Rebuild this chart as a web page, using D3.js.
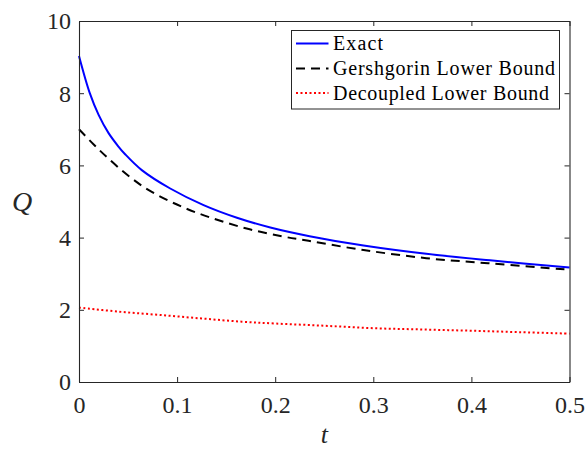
<!DOCTYPE html>
<html>
<head>
<meta charset="utf-8">
<script src="https://cdn.jsdelivr.net/npm/d3@7"></script>
<style>
  html, body { margin: 0; padding: 0; background: #fff; }
  svg { display: block; }
</style>
</head>
<body>
<svg id="chart" width="587" height="449"></svg>
<script>
// Sampled curves Q(t)
const exactT = [0, 0.011, 0.02, 0.03, 0.04, 0.047, 0.064, 0.093, 0.127, 0.161, 0.195, 0.235, 0.29, 0.354, 0.419, 0.5];
const exactQ = [9.03, 8.0, 7.40, 6.9, 6.53, 6.31, 5.87, 5.36, 4.90, 4.55, 4.28, 4.04, 3.78, 3.55, 3.37, 3.17];

const gershT = [0, 0.015, 0.03, 0.05, 0.072, 0.106, 0.14, 0.174, 0.208, 0.234, 0.29, 0.354, 0.417, 0.5];
const gershQ = [7.0, 6.58, 6.19, 5.72, 5.30, 4.84, 4.50, 4.23, 4.03, 3.91, 3.655, 3.43, 3.29, 3.11];

const decT = [0, 0.04, 0.081, 0.125, 0.166, 0.2, 0.249, 0.3, 0.35, 0.4, 0.45, 0.5];
const decQ = [2.06, 1.95, 1.86, 1.76, 1.67, 1.62, 1.56, 1.49, 1.455, 1.42, 1.38, 1.34];

const xTicks = [0, 0.1, 0.2, 0.3, 0.4, 0.5];
const yTicks = [0, 2, 4, 6, 8, 10];

const seriesNames = ["Exact", "Gershgorin Lower Bound", "Decoupled Lower Bound"];

const svg = d3.select("#chart");
const axisColor = "#262626";
const serif = "'Liberation Serif', 'DejaVu Serif', 'Noto Serif', Tinos, 'Times New Roman', Times, FreeSerif, serif";

const x = d3.scaleLinear().domain([0, 0.5]).range([79, 569.5]);
const y = d3.scaleLinear().domain([0, 10]).range([382, 21]);

const series = [
  { name: seriesNames[0], t: exactT, q: exactQ, color: "#0000ff", dash: null, width: 2 },
  { name: seriesNames[1], t: gershT, q: gershQ, color: "#000000", dash: "9,6", width: 2 },
  { name: seriesNames[2], t: decT, q: decQ, color: "#ff0000", dash: "2,2.5", width: 2 }
];

const line = d3.line()
  .x(d => x(d[0]))
  .y(d => y(d[1]))
  .curve(d3.curveCatmullRom.alpha(0.5));

// Curves
const plot = svg.append("g");
series.forEach(s => {
  plot.append("path")
    .datum(s.t.map((t, i) => [t, s.q[i]]))
    .attr("fill", "none")
    .attr("stroke", s.color)
    .attr("stroke-width", s.width)
    .attr("stroke-dasharray", s.dash)
    .attr("d", line);
});

// Axes with inward ticks, box on all four sides
const tickLen = 5;
const styleAxis = g => {
  g.attr("font-family", serif);
  g.select(".domain").attr("stroke", axisColor).attr("stroke-width", 1.1);
  g.selectAll(".tick line").attr("stroke", axisColor).attr("stroke-width", 1);
};

svg.append("g")
  .attr("transform", `translate(0,${y(0)})`)
  .call(d3.axisBottom(x).tickValues(xTicks).tickSizeInner(-tickLen).tickSizeOuter(0)
    .tickFormat(d => d === 0 ? "0" : d3.format(".1f")(d)))
  .call(styleAxis)
  .call(g => g.selectAll(".tick text")
    .attr("y", 31).attr("dy", null)
    .attr("font-size", 24).attr("fill", axisColor));

svg.append("g")
  .attr("transform", `translate(0,${y(10)})`)
  .call(d3.axisTop(x).tickValues(xTicks).tickSizeInner(-tickLen).tickSizeOuter(0).tickFormat(""))
  .call(styleAxis);

svg.append("g")
  .attr("transform", `translate(${x(0)},0)`)
  .call(d3.axisLeft(y).tickValues(yTicks).tickSizeInner(-tickLen).tickSizeOuter(0))
  .call(styleAxis)
  .call(g => g.selectAll(".tick text")
    .attr("x", -8).attr("dy", "0.33em")
    .attr("font-size", 24).attr("fill", axisColor));

svg.append("g")
  .attr("transform", `translate(${x(0.5)},0)`)
  .call(d3.axisRight(y).tickValues(yTicks).tickSizeInner(-tickLen).tickSizeOuter(0).tickFormat(""))
  .call(styleAxis);

// Axis labels
svg.append("text")
  .attr("x", (x(0) + x(0.5)) / 2)
  .attr("y", 443)
  .attr("text-anchor", "middle")
  .attr("font-family", serif)
  .attr("font-size", 26)
  .attr("font-style", "italic")
  .attr("fill", axisColor)
  .text("t");

svg.append("text")
  .attr("x", 22)
  .attr("y", 211)
  .attr("text-anchor", "middle")
  .attr("font-family", serif)
  .attr("font-size", 28)
  .attr("font-style", "italic")
  .attr("fill", axisColor)
  .text("Q");

// Legend
const legend = svg.append("g").attr("font-family", serif);
legend.append("rect")
  .attr("x", 291.5).attr("y", 30.5)
  .attr("width", 268).attr("height", 78.5)
  .attr("fill", "#fff")
  .attr("stroke", axisColor)
  .attr("stroke-width", 1);

const rowY = [43.5, 68.5, 93];
const labelWidths = [50, 222, 216];
series.forEach((s, i) => {
  legend.append("line")
    .attr("x1", 296).attr("x2", 328.5)
    .attr("y1", rowY[i]).attr("y2", rowY[i])
    .attr("stroke", s.color)
    .attr("stroke-width", s.width)
    .attr("stroke-dasharray", s.dash);
  legend.append("text")
    .attr("x", 333)
    .attr("y", rowY[i] + 6.5)
    .attr("font-size", 20)
    .attr("textLength", labelWidths[i])
    .attr("lengthAdjust", "spacing")
    .attr("fill", "#000")
    .text(s.name);
});
</script>
</body>
</html>
